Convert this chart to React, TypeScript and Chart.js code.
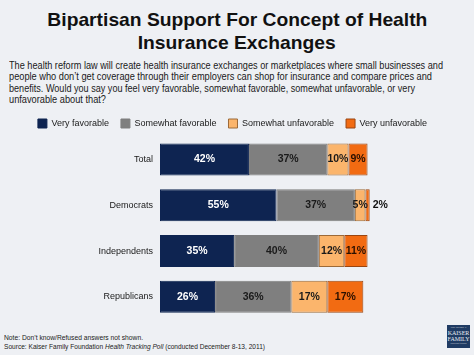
import React, { useEffect, useLayoutEffect, useRef } from "react";
import { Chart, registerables } from "chart.js";

Chart.register(...registerables);

// ---------- data ----------
const categories = ["Total", "Democrats", "Independents", "Republicans"];
const seriesNames = ["Very favorable", "Somewhat favorable", "Somewhat unfavorable", "Very unfavorable"];
const veryFavorable = [42, 55, 35, 26];
const somewhatFavorable = [37, 37, 40, 36];
const somewhatUnfavorable = [10, 5, 12, 17];
const veryUnfavorable = [9, 2, 11, 17];

const titleLines = ["Bipartisan Support For Concept of Health", "Insurance Exchanges"];
const questionLines = [
  "The health reform law will create health insurance exchanges or marketplaces where small businesses and",
  "people who don\u2019t get coverage through their employers can shop for insurance and compare prices and",
  "benefits. Would you say you feel very favorable, somewhat favorable, somewhat unfavorable, or very",
  "unfavorable about that?",
];
const noteText = "Note: Don\u2019t know/Refused answers not shown.";
const sourcePrefix = "Source: Kaiser Family Foundation ";
const sourceItalic = "Health Tracking Poll";
const sourceSuffix = " (conducted December 8-13, 2011)";

// ---------- styles ----------
const BG = "#eef0f4";
const FONT = '"Liberation Sans", Arial, sans-serif';
const fillColors = ["#0e2451", "#7f7f7f", "#fbb56c", "#f26b12"];
const borderColors = ["#0e2451", "#7f7f7f", "#9c6a38", "#9a4510"];
const labelColors = ["#ffffff", "#1a1a1a", "#1a1a1a", "#2a1000"];
const LEGEND_HEIGHT = 29.75;

function FitLine(props: {
  width: number;
  align: "left" | "center";
  style: React.CSSProperties;
  children: React.ReactNode;
}) {
  const ref = useRef<HTMLSpanElement>(null);
  useLayoutEffect(() => {
    const el = ref.current;
    if (!el) return;
    el.style.transform = "none";
    const w = el.getBoundingClientRect().width;
    if (w > 0) el.style.transform = `scaleX(${props.width / w})`;
  }, [props.width]);
  return (
    <div style={{ position: "absolute", whiteSpace: "nowrap", textAlign: props.align, ...props.style }}>
      <span
        ref={ref}
        style={{ display: "inline-block", transformOrigin: props.align === "center" ? "center" : "left" }}
      >
        {props.children}
      </span>
    </div>
  );
}

const legendHeightPlugin = {
  id: "legendHeight",
  beforeLayout(chart: any) {
    const legend = chart.legend;
    if (legend && !legend._fitPatched) {
      const orig = legend.fit.bind(legend);
      legend.fit = function () {
        orig();
        this.height = LEGEND_HEIGHT;
      };
      legend._fitPatched = true;
    }
  },
};

const barLabelPlugin = {
  id: "barLabels",
  afterDatasetsDraw(chart: any) {
    const ctx = chart.ctx;
    chart.data.datasets.forEach((ds: any, di: number) => {
      const meta = chart.getDatasetMeta(di);
      meta.data.forEach((bar: any, i: number) => {
        const v = ds.data[i] as number;
        const p = bar.getProps(["x", "y", "base"], true);
        ctx.save();
        ctx.font = `bold 10.5px ${FONT}`;
        ctx.textBaseline = "middle";
        if (v < 4) {
          ctx.textAlign = "left";
          ctx.fillStyle = "#111111";
          ctx.fillText(`${v}%`, p.x + 3, p.y);
        } else {
          ctx.textAlign = "center";
          ctx.fillStyle = labelColors[di];
          ctx.fillText(`${v}%`, (p.x + p.base) / 2, p.y);
        }
        ctx.restore();
      });
    });
  },
};

function BarChart() {
  const canvasRef = useRef<HTMLCanvasElement>(null);
  useEffect(() => {
    const canvas = canvasRef.current;
    if (!canvas) return;
    const seriesValues = [veryFavorable, somewhatFavorable, somewhatUnfavorable, veryUnfavorable];
    const chart = new Chart(canvas, {
      type: "bar",
      data: {
        labels: categories,
        datasets: seriesNames.map((name, i) => ({
          label: name,
          data: seriesValues[i],
          backgroundColor: fillColors[i],
          borderColor: borderColors[i],
          borderWidth: 1,
          borderSkipped: false,
          barPercentage: 0.7,
          categoryPercentage: 1,
        })),
      },
      options: {
        indexAxis: "y",
        responsive: false,
        animation: false,
        layout: { padding: { left: 0, right: 9, top: 7, bottom: 2 } },
        plugins: {
          legend: {
            display: true,
            position: "top",
            labels: {
              boxWidth: 9,
              boxHeight: 9,
              padding: 12,
              color: "#1a1a1a",
              font: { family: FONT, size: 9 },
            },
          },
          tooltip: { enabled: false },
          title: { display: false },
        },
        scales: {
          x: { stacked: true, min: 0, max: 144, display: false },
          y: {
            stacked: true,
            grid: { display: false, drawTicks: false },
            border: { display: false },
            ticks: { color: "#1a1a1a", padding: 7, font: { family: FONT, size: 9 } },
            afterFit: (scale: any) => {
              scale.width = 160;
            },
          },
        },
      },
      plugins: [legendHeightPlugin, barLabelPlugin],
    });
    return () => chart.destroy();
  }, []);
  return (
    <canvas
      ref={canvasRef}
      width={474}
      height={232}
      style={{ position: "absolute", left: 0, top: 100, width: 474, height: 232 }}
    />
  );
}

export default function App() {
  return (
    <div
      style={{
        position: "fixed",
        left: 0,
        top: 0,
        width: 474,
        height: 355,
        background: BG,
        overflow: "hidden",
        fontFamily: FONT,
        color: "#111",
      }}
    >
      <FitLine
        width={380}
        align="center"
        style={{ left: 0, width: 474, top: 8, fontSize: 19, lineHeight: "23px", fontWeight: "bold" }}
      >
        {titleLines[0]}
      </FitLine>
      <FitLine
        width={198}
        align="center"
        style={{ left: 0, width: 474, top: 31, fontSize: 19, lineHeight: "23px", fontWeight: "bold" }}
      >
        {titleLines[1]}
      </FitLine>
      {questionLines.map((line, i) => (
        <FitLine
          key={i}
          width={[434, 423, 406, 97][i]}
          align="left"
          style={{ left: 9, top: 60 + i * 11.4, fontSize: 10, lineHeight: "11.4px", color: "#1a1a1a" }}
        >
          {line}
        </FitLine>
      ))}
      <BarChart />
      <FitLine width={139} align="left" style={{ left: 4, top: 333, fontSize: 7.5, lineHeight: "9px", color: "#222" }}>
        {noteText}
      </FitLine>
      <FitLine width={261} align="left" style={{ left: 4, top: 342, fontSize: 7.5, lineHeight: "9px", color: "#222" }}>
        {sourcePrefix}
        <i>{sourceItalic}</i>
        {sourceSuffix}
      </FitLine>
      <div
        style={{
          position: "absolute",
          left: 447,
          top: 325,
          width: 23,
          height: 23,
          background: "#1f3b63",
          color: "#e8ecf2",
          fontFamily: '"Liberation Serif", serif',
          textAlign: "center",
          overflow: "hidden",
        }}
      >
        <div style={{ fontSize: 2.5, lineHeight: "4px", marginTop: 1 }}>THE HENRY J.</div>
        <div style={{ fontSize: 6, lineHeight: "6px" }}>KAISER</div>
        <div style={{ fontSize: 6, lineHeight: "6px" }}>FAMILY</div>
        <div style={{ fontSize: 2.5, lineHeight: "4px" }}>FOUNDATION</div>
      </div>
    </div>
  );
}
